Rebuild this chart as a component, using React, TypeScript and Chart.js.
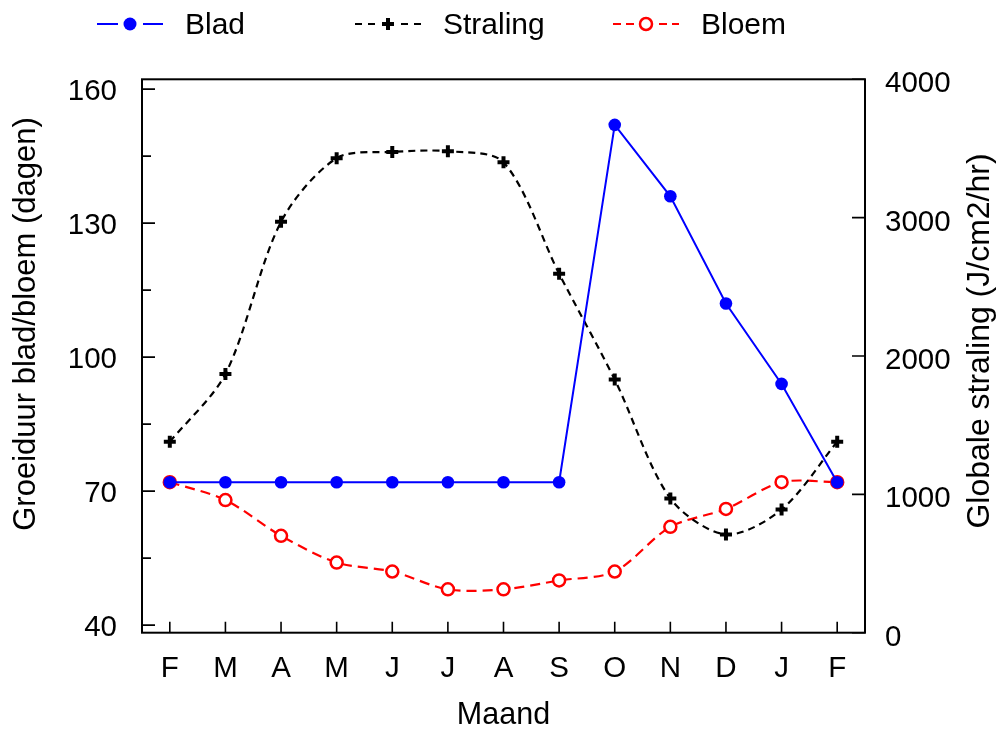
import React, { useEffect, useRef } from "react";
import { Chart, registerables } from "chart.js";

Chart.register(...registerables);

// ---- data ----
const months = ["F", "M", "A", "M", "J", "J", "A", "S", "O", "N", "D", "J", "F"];
const blad = [72, 72, 72, 72, 72, 72, 72, 72, 152, 136, 112, 94, 72];
const straling = [1380, 1870, 2970, 3430, 3475, 3480, 3400, 2595, 1830, 970, 710, 890, 1380];
const bloem = [72, 68, 60, 54, 52, 48, 48, 50, 52, 62, 66, 72, 72];
const leftTicks = [40, 70, 100, 130, 160];
const leftMinorTicks = [55, 85, 115, 145];
const rightTicks = [0, 1000, 2000, 3000, 4000];
const xTitle = "Maand";
const yTitle = "Groeiduur blad/bloem (dagen)";
const y1Title = "Globale straling (J/cm2/hr)";

const FONT = "'Liberation Sans', Arial, Helvetica, sans-serif";
const TICK_SIZE = 29.5;

const framePlugin = {
  id: "frame",
  afterDatasetsDraw(chart: any) {
    const { ctx, chartArea: a, scales } = chart;
    ctx.save();
    ctx.strokeStyle = "#000";
    ctx.lineWidth = 2;
    ctx.strokeRect(a.left, a.top, a.right - a.left, a.bottom - a.top);
    ctx.lineWidth = 1.6;
    ctx.beginPath();
    leftTicks.forEach((v) => {
      const y = scales.y.getPixelForValue(v);
      ctx.moveTo(a.left, y);
      ctx.lineTo(a.left + 13, y);
    });
    leftMinorTicks.forEach((v) => {
      const y = scales.y.getPixelForValue(v);
      ctx.moveTo(a.left, y);
      ctx.lineTo(a.left + 9, y);
    });
    rightTicks.forEach((v) => {
      const y = scales.y1.getPixelForValue(v);
      ctx.moveTo(a.right, y);
      ctx.lineTo(a.right - 13, y);
    });
    months.forEach((_, i) => {
      const x = scales.x.getPixelForValue(i);
      ctx.moveTo(x, a.bottom);
      ctx.lineTo(x, a.bottom - 11);
    });
    ctx.stroke();
    ctx.restore();
  },
  afterDraw(chart: any) {
    const { ctx, chartArea: a } = chart;
    ctx.save();
    ctx.fillStyle = "#000";
    ctx.textAlign = "center";
    ctx.textBaseline = "middle";
    ctx.font = `30.5px ${FONT}`;
    ctx.fillText(xTitle, (a.left + a.right) / 2, 716);
    ctx.font = `31px ${FONT}`;
    ctx.save();
    ctx.translate(26, 324);
    ctx.rotate(-Math.PI / 2);
    ctx.fillText(yTitle, 0, 0);
    ctx.restore();
    ctx.font = `32px ${FONT}`;
    ctx.save();
    ctx.translate(980, 341);
    ctx.rotate(-Math.PI / 2);
    ctx.fillText(y1Title, 0, 0);
    ctx.restore();

    // legend
    const items = [
      { x0: 97, color: "#0000ff", dash: [] as number[], marker: "dot" },
      { x0: 355, color: "#000000", dash: [7, 6], marker: "cross" },
      { x0: 613, color: "#ff0000", dash: [8, 5], marker: "ring" },
    ];
    const ly = 24;
    const len = 66;
    items.forEach((it, i) => {
      const mx = it.x0 + len / 2;
      ctx.strokeStyle = it.color;
      ctx.lineWidth = 2;
      ctx.setLineDash(it.dash);
      ctx.beginPath();
      ctx.moveTo(it.x0, ly);
      ctx.lineTo(mx - 12, ly);
      ctx.stroke();
      ctx.beginPath();
      ctx.moveTo(mx + 13, ly);
      ctx.lineTo(it.x0 + len, ly);
      ctx.stroke();
      ctx.setLineDash([]);
      if (it.marker === "dot") {
        ctx.fillStyle = it.color;
        ctx.beginPath();
        ctx.arc(mx, ly, 6.5, 0, Math.PI * 2);
        ctx.fill();
      } else if (it.marker === "cross") {
        ctx.lineWidth = 4;
        ctx.beginPath();
        ctx.moveTo(mx - 6, ly);
        ctx.lineTo(mx + 6, ly);
        ctx.moveTo(mx, ly - 6);
        ctx.lineTo(mx, ly + 6);
        ctx.stroke();
      } else {
        ctx.fillStyle = "#fff";
        ctx.lineWidth = 2.5;
        ctx.beginPath();
        ctx.arc(mx, ly, 6, 0, Math.PI * 2);
        ctx.fill();
        ctx.stroke();
      }
      ctx.fillStyle = "#000";
      ctx.font = `30px ${FONT}`;
      ctx.textAlign = "left";
      ctx.textBaseline = "middle";
      ctx.fillText(chart.data.datasets[i].label, it.x0 + len + 22, ly + 2);
    });
    ctx.restore();
  },
};

export default function App() {
  const ref = useRef<HTMLCanvasElement | null>(null);
  useEffect(() => {
    if (!ref.current) return;
    Chart.defaults.font.family = FONT;
    Chart.defaults.color = "#000";
    const chart = new Chart(ref.current, {
      type: "line",
      data: {
        labels: months,
        datasets: [
          {
            label: "Blad",
            data: blad,
            yAxisID: "y",
            borderColor: "#0000ff",
            backgroundColor: "#0000ff",
            borderWidth: 2,
            pointRadius: 6.3,
            pointBorderWidth: 0,
            pointBackgroundColor: "#0000ff",
            tension: 0,
          },
          {
            label: "Straling",
            data: straling,
            yAxisID: "y1",
            borderColor: "#000000",
            backgroundColor: "#000000",
            borderWidth: 2.2,
            borderDash: [7, 5],
            pointStyle: "cross",
            pointRadius: 6,
            pointBorderWidth: 4,
            pointBorderColor: "#000",
            tension: 0.3,
          },
          {
            label: "Bloem",
            data: bloem,
            yAxisID: "y",
            borderColor: "#ff0000",
            backgroundColor: "#ffffff",
            borderWidth: 2.2,
            borderDash: [10, 6],
            pointRadius: 6,
            pointBorderWidth: 2.5,
            pointBackgroundColor: "#ffffff",
            pointBorderColor: "#ff0000",
            tension: 0.3,
          },
        ],
      },
      options: {
        animation: false,
        responsive: true,
        maintainAspectRatio: false,
        layout: { padding: { top: 79.3, left: 0, right: 0, bottom: 0 } },
        plugins: { legend: { display: false }, tooltip: { enabled: false } },
        scales: {
          x: {
            type: "category",
            offset: true,
            grid: { display: false, drawTicks: false },
            border: { display: false },
            ticks: { font: { size: TICK_SIZE, family: FONT }, color: "#000", padding: 18, maxRotation: 0, autoSkip: false },
            afterFit: (s: any) => {
              s.height = 96.3;
            },
          },
          y: {
            type: "linear",
            position: "left",
            min: 38.3,
            max: 162.2,
            grid: { display: false, drawTicks: false },
            border: { display: false },
            ticks: {
              font: { size: TICK_SIZE, family: FONT },
              color: "#000",
              padding: 25,
              labelOffset: 3,
              callback: (v: any) => String(v),
            },
            afterBuildTicks: (s: any) => {
              s.ticks = leftTicks.map((v) => ({ value: v }));
            },
            afterFit: (s: any) => {
              s.width = 142;
            },
          },
          y1: {
            type: "linear",
            position: "right",
            min: 0,
            max: 4000,
            grid: { display: false, drawTicks: false },
            border: { display: false },
            ticks: {
              font: { size: TICK_SIZE, family: FONT },
              color: "#000",
              padding: 20,
              labelOffset: 5,
              callback: (v: any) => String(v),
            },
            afterBuildTicks: (s: any) => {
              s.ticks = rightTicks.map((v) => ({ value: v }));
            },
            afterFit: (s: any) => {
              s.width = 132;
            },
          },
        },
      },
      plugins: [framePlugin],
    });
    return () => chart.destroy();
  }, []);
  return (
    <div style={{ position: "fixed", left: 0, top: 0, width: 997, height: 729, background: "#fff" }}>
      <canvas ref={ref} />
    </div>
  );
}
